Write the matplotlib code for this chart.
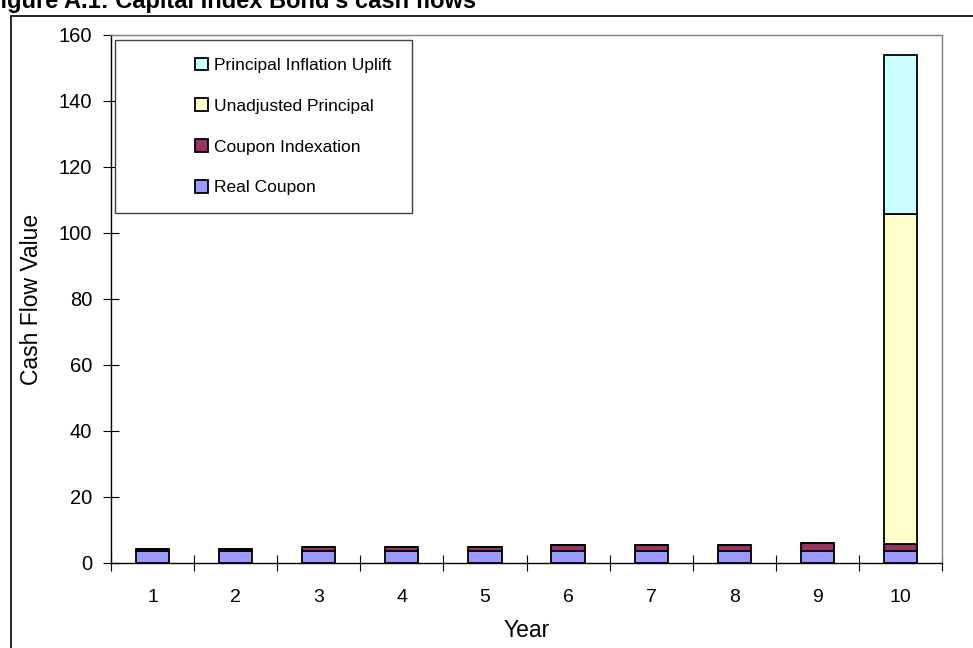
import numpy as np
import matplotlib
matplotlib.use("Agg")
import matplotlib.pyplot as plt
from matplotlib.patches import Rectangle

plt.rcParams["font.family"] = ["Liberation Sans", "DejaVu Sans"]

# data
years = [1, 2, 3, 4, 5, 6, 7, 8, 9, 10]
real_coupon = [3.5, 3.5, 3.5, 3.5, 3.5, 3.5, 3.5, 3.5, 3.5, 3.5]
coupon_indexation = [0.6, 0.6, 1.4, 1.4, 1.4, 2.0, 2.0, 2.0, 2.5, 2.2]
unadjusted_principal = [0, 0, 0, 0, 0, 0, 0, 0, 0, 100.0]
principal_uplift = [0, 0, 0, 0, 0, 0, 0, 0, 0, 48.2]

series = [
    ("Real Coupon", real_coupon, "#9999FF"),
    ("Coupon Indexation", coupon_indexation, "#993366"),
    ("Unadjusted Principal", unadjusted_principal, "#FFFFCC"),
    ("Principal Inflation Uplift", principal_uplift, "#CCFFFF"),
]

fig = plt.figure(figsize=(9.73, 6.48), dpi=100)
ax = fig.add_axes([111 / 973, 85 / 648, 831 / 973, 528 / 648])

x = np.array(years)
bottom = np.zeros(len(years))
handles = []
for name, vals, col in series:
    vals = np.array(vals, dtype=float)
    b = ax.bar(x, vals, width=0.4, bottom=bottom, color=col,
               edgecolor="black", linewidth=1.3, label=name)
    handles.append(b)
    bottom = bottom + vals

ax.set_xlim(0.5, 10.5)
ax.set_ylim(0, 160)
ax.set_yticks(np.arange(0, 161, 20))

# ticks between categories, labels under the bars
ax.set_xticks(np.arange(0.5, 11, 1))
ax.set_xticklabels([])
ax.set_xticks(x, minor=True)
ax.set_xticklabels([str(y) for y in years], minor=True)
ax.tick_params(axis="x", which="major", direction="inout", length=11, width=0.8)
ax.tick_params(axis="x", which="minor", length=0, pad=19, labelsize=14)
ax.tick_params(axis="y", direction="inout", length=11, width=0.8, pad=8, labelsize=14.5)

for s in ["top", "right"]:
    ax.spines[s].set_color("#808080")
    ax.spines[s].set_linewidth(1.0)
for s in ["left", "bottom"]:
    ax.spines[s].set_color("black")
    ax.spines[s].set_linewidth(1.0)

ax.set_xlabel("Year", fontsize=16.5, labelpad=9)
ax.set_ylabel("Cash Flow Value", fontsize=16.5, labelpad=11)

# legend box drawn as a plain rectangle, entries placed inside it
ax.add_patch(Rectangle((4 / 831, 350 / 528), 297 / 831, 173 / 528,
                       transform=ax.transAxes, facecolor="white",
                       edgecolor="#404040", linewidth=1.0, zorder=5))
leg = ax.legend(handles[::-1], [s[0] for s in series][::-1],
                loc="upper left", bbox_to_anchor=(84 / 831, 0.957),
                frameon=False, fontsize=12.5, borderpad=0, borderaxespad=0,
                handlelength=0.75, handleheight=0.75, handletextpad=0.35,
                labelspacing=1.46)
leg.set_zorder(6)

# outer frame and clipped caption
fig.patches.append(Rectangle((11 / 973, -0.1), 1.0, 1 - 16 / 648 + 0.1,
                             transform=fig.transFigure, fill=False,
                             edgecolor="black", linewidth=1.2))
fig.text(-0.0145, 1 - 8 / 648, "Figure A.1: Capital Index Bond's cash flows",
         fontsize=17, fontweight="bold", va="baseline", ha="left")

fig.savefig("out.png", dpi=100)
